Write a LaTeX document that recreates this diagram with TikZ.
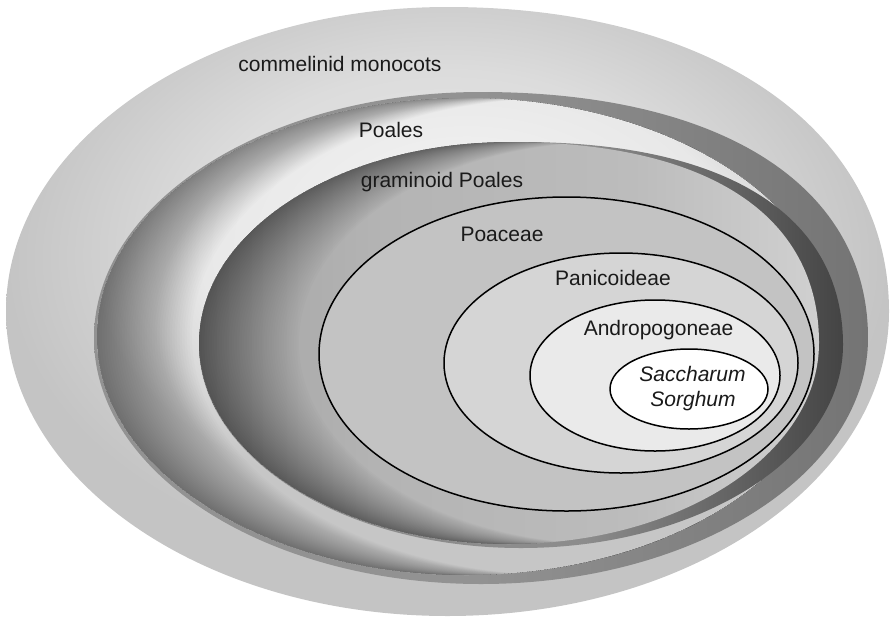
\documentclass[tikz,border=0pt]{standalone}
\usepackage{fontspec}
\setmainfont{Liberation Sans}
\definecolor{oA}{HTML}{E8E8E8}
\definecolor{oB}{HTML}{DCDCDC}
\definecolor{oC}{HTML}{C4C4C4}
\definecolor{rA}{HTML}{929292}
\definecolor{rB}{HTML}{747474}
\definecolor{pA}{HTML}{F4F4F4}
\definecolor{pB}{HTML}{E8E8E8}
\definecolor{pC}{HTML}{D8D8D8}
\definecolor{pD}{HTML}{C6C6C6}
\definecolor{gA}{HTML}{8C8C8C}
\definecolor{gB}{HTML}{444444}
\definecolor{fA}{HTML}{A4A4A4}
\definecolor{fB}{HTML}{B4B4B4}
\definecolor{fC}{HTML}{BCBCBC}
\definecolor{fD}{HTML}{D0D0D0}
\definecolor{poaceaeC}{HTML}{C3C3C3}
\definecolor{panicC}{HTML}{D5D5D5}
\definecolor{androC}{HTML}{EAEAEA}
\definecolor{txt}{HTML}{1A1A1A}
\pgfdeclareradialshading{outershade}{\pgfpoint{0bp}{8bp}}{color(0bp)=(oA); color(14bp)=(oB); color(25bp)=(oC); color(50bp)=(oC)}
\pgfdeclarehorizontalshading{prshade}{100bp}{color(0bp)=(rA); color(25bp)=(rA); color(50bp)=(rA); color(75bp)=(rB); color(100bp)=(rB)}
\pgfdeclareradialshading{pfshade}{\pgfpoint{0bp}{14bp}}{color(0bp)=(pA); color(18bp)=(pB); color(22bp)=(pC); color(25bp)=(pD); color(50bp)=(pD)}
\pgfdeclarehorizontalshading{grshade}{100bp}{color(0bp)=(gA); color(25bp)=(gA); color(55bp)=(gA); color(75bp)=(gB); color(100bp)=(gB)}
\pgfdeclarehorizontalshading{gfshade}{100bp}{color(0bp)=(fA); color(25bp)=(fA); color(40bp)=(fB); color(60bp)=(fC); color(75bp)=(fD); color(100bp)=(fD)}
\tikzset{
  lbl/.style={font=\fontsize{21}{25}\selectfont, text=txt, inner sep=0pt, anchor=base},
  ring/.style={draw=black, line width=1.5pt},
  shadow/.style={fill=black, fill opacity=#1, even odd rule}
}
\begin{document}
\begin{tikzpicture}[x=1pt, y=-1pt]
\useasboundingbox (0,0) rectangle (893,621);
% commelinid monocots (outer)
\path[shading=outershade] (447.5,7) .. controls (712.4,7) and (889,128.8) .. (889,311.5)
  arc [start angle=0, end angle=270, x radius=441.5, y radius=304.5] -- cycle;
% Poales rim
\path[shading=prshade] (481,92) .. controls (720.9,92) and (868,185.5) .. (868,338)
  arc [start angle=0, end angle=270, x radius=387, y radius=246] -- cycle;
% Poales floor
\path[shading=pfshade] (466.5,336.5) ellipse [x radius=369.5, y radius=238.5];
\begin{scope}
  \clip (466.5,336.5) ellipse [x radius=369.5, y radius=238.5];
  \foreach \k in {1,...,38}{
    \path[shadow=0.012] (466.5,336.5) ellipse [x radius=369.5, y radius=238.5]
      ({466.5+2.5*\k},336.5) ellipse [x radius=369.5, y radius=238.5];
  }
\end{scope}
% graminoid Poales rim
\path[shading=grshade] (521,142) .. controls (727,142) and (843,215.1) .. (843,345)
  arc [start angle=0, end angle=270, x radius=322, y radius=203] -- cycle;
% graminoid Poales floor
\path[shading=gfshade] (509,142) .. controls (707.4,142) and (819,214.4) .. (819,343)
  arc [start angle=0, end angle=270, x radius=310, y radius=201] -- cycle;
\begin{scope}
  \clip (509,142) .. controls (707.4,142) and (819,214.4) .. (819,343)
    arc [start angle=0, end angle=270, x radius=310, y radius=201] -- cycle;
  \foreach \k in {1,...,40}{
    \begin{scope}[xshift=\k*2.5pt]
      \path[shadow=0.013] (-300,-300) rectangle (1300,1000)
        (509,142) .. controls (707.4,142) and (819,214.4) .. (819,343)
        arc [start angle=0, end angle=270, x radius=310, y radius=201] -- cycle;
    \end{scope}
  }
\end{scope}
% inner outlined ellipses
\path[ring, fill=poaceaeC] (566.5,354) ellipse [x radius=247.5, y radius=157];
\path[ring, fill=panicC] (621,363) ellipse [x radius=177, y radius=110];
\path[ring, fill=androC] (655,375.5) ellipse [x radius=125, y radius=75.5];
\path[ring, fill=white] (689,389) ellipse [x radius=79, y radius=40];
% labels
\node[lbl] (tcm) at (340,71) {commelinid monocots};
\node[lbl] (tpo) at (391,137) {Poales};
\node[lbl] (tgr) at (442,187.5) {graminoid Poales};
\node[lbl] (tpc) at (502,241) {Poaceae};
\node[lbl] (tpn) at (613,285) {Panicoideae};
\node[lbl] (tan) at (658.5,335) {Andropogoneae};
\node[lbl, font=\fontsize{21}{25}\selectfont\itshape] (tsa) at (692.5,381) {Saccharum};
\node[lbl, font=\fontsize{21}{25}\selectfont\itshape] (tso) at (693,406) {Sorghum};
\end{tikzpicture}
\end{document}
